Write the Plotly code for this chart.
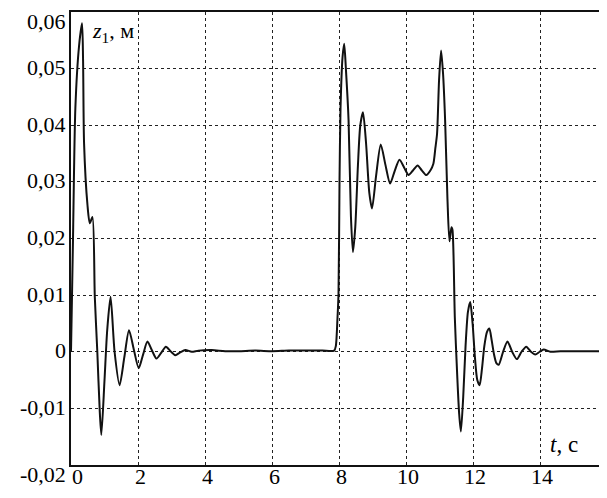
import plotly.graph_objects as go

t_values = [0, 0.03, 0.06, 0.13, 0.24, 0.33, 0.36, 0.39, 0.49, 0.56, 0.64, 0.71, 0.785, 0.86, 0.905,
            1.0, 1.08, 1.18, 1.30, 1.45, 1.59, 1.73, 1.87, 2.02, 2.15, 2.28, 2.41, 2.55, 2.69, 2.83,
            2.97, 3.11, 3.26, 3.41, 3.6, 3.8, 4.2, 4.6, 5.0, 5.5, 6.0, 6.5, 7.0, 7.5, 7.85,
            7.9, 7.95, 7.98, 8.01, 8.04, 8.1, 8.15, 8.2, 8.28, 8.35, 8.41, 8.48, 8.56, 8.63, 8.71,
            8.8, 8.9, 8.98, 9.1, 9.24, 9.38, 9.52, 9.66, 9.80, 9.94, 10.07, 10.2, 10.34, 10.47, 10.6,
            10.72, 10.81, 10.87, 10.92, 10.98, 11.04, 11.1, 11.16, 11.23, 11.29, 11.35, 11.38, 11.45,
            11.52, 11.58, 11.63, 11.7, 11.77, 11.84, 11.91, 11.98, 12.05, 12.12, 12.19, 12.26, 12.33,
            12.41, 12.48, 12.55, 12.62, 12.69, 12.76, 12.89, 13.02, 13.16, 13.30, 13.44, 13.58, 13.72,
            13.85, 13.98, 14.1, 14.3, 14.6, 15.0, 15.5, 15.9]
z_values = [0, 0.01, 0.02, 0.043, 0.054, 0.058, 0.0515, 0.0368, 0.026, 0.0227, 0.0238, 0.0097, 0.0, -0.0108, -0.0147,
            -0.005, 0.0038, 0.0097, 0.0, -0.0059, -0.001, 0.0038, 0.0005, -0.0029, -0.0005, 0.0018, 0.0003, -0.0012, -0.0002, 0.0009,
            0.0001, -0.0006, -0.0001, 0.0003, 0.0, 0.0002, 0.0003, 0.0001, 0.0001, 0.0002, 0.0001, 0.0002, 0.0002, 0.0002, 0.0002,
            0.001, 0.006, 0.0103, 0.03, 0.043, 0.052, 0.0544, 0.05, 0.0409, 0.024, 0.0176, 0.022, 0.033, 0.040, 0.0423,
            0.037, 0.028, 0.0253, 0.031, 0.0366, 0.033, 0.0297, 0.032, 0.0339, 0.0325, 0.0312, 0.032, 0.0329, 0.032, 0.0312,
            0.032, 0.0332, 0.036, 0.0385, 0.048, 0.0532, 0.049, 0.0409, 0.027, 0.0195, 0.022, 0.0215, 0.006,
            -0.004, -0.011, -0.0141, -0.008, 0.001, 0.007, 0.0088, 0.005, -0.001, -0.005, -0.0059, -0.003, 0.001,
            0.0035, 0.0041, 0.002, -0.0005, -0.002, -0.0023, 0.0, 0.0018, 0.0, -0.0013, 0.0, 0.0009, 0.0,
            -0.0005, 0.0, 0.0004, 0.0, 0.0001, 0.0001, 0.0001, 0.0001]

x_tick_vals = [0, 2, 4, 6, 8, 10, 12, 14]
x_tick_text = ["0", "2", "4", "6", "8", "10", "12", "14"]
y_tick_vals = [-0.02, -0.01, 0, 0.01, 0.02, 0.03, 0.04, 0.05, 0.06]
y_tick_text = ["-0,02", "-0,01", "0", "0,01", "0,02", "0,03", "0,04", "0,05", "0,06"]

FAMILY = "Liberation Serif"
font = dict(family=FAMILY, size=22, color="#000000")

fig = go.Figure()
fig.add_trace(go.Scatter(x=t_values, y=z_values, mode="lines",
                         line=dict(color="#111111", width=2, shape="spline", smoothing=0.7),
                         showlegend=False, hoverinfo="skip"))

annotations = [
    dict(x=0.57, y=0.0565, xref="x", yref="y", text="<i>z</i><sub>1</sub>, м",
         showarrow=False, xanchor="left", yanchor="middle",
         font=dict(family=FAMILY, size=22, color="#000000")),
    dict(x=14.24, y=-0.0163, xref="x", yref="y", text="<i>t</i>, с",
         showarrow=False, xanchor="left", yanchor="middle",
         font=dict(family=FAMILY, size=23, color="#000000")),
]
for v, s in zip(x_tick_vals, x_tick_text):
    annotations.append(dict(x=v, y=0, xref="x", yref="paper", text=s, showarrow=False,
                            xanchor="center", yanchor="middle", yshift=-11,
                            xshift=6 if v == 0 else 2, font=font))
for v, s in zip(y_tick_vals, y_tick_text):
    if v == 0.06 or v == -0.02:
        ys = -9
    else:
        ys = 1
    annotations.append(dict(x=0, y=v, xref="paper", yref="y", text=s, showarrow=False,
                            xanchor="right", yanchor="middle", xshift=-3, yshift=ys, font=font))

# the page body adds an 8 px offset, so the figure is sized to fit the 607x498 window
fig.update_layout(
    width=599, height=490,
    margin=dict(l=63, r=3, t=4, b=33),
    paper_bgcolor="white", plot_bgcolor="white",
    font=font,
    xaxis=dict(range=[0, 15.9], tickvals=x_tick_vals, showticklabels=False,
               showgrid=True, gridcolor="#222222", griddash="dot", gridwidth=1.3,
               showline=True, linecolor="#111111", linewidth=1.5, mirror=True,
               zeroline=False, ticks="", automargin=False),
    yaxis=dict(range=[-0.02, 0.06], tickvals=y_tick_vals, showticklabels=False,
               showgrid=True, gridcolor="#222222", griddash="dot", gridwidth=1.3,
               showline=True, linecolor="#111111", linewidth=1.5, mirror=True,
               zeroline=False, ticks="", automargin=False),
    annotations=annotations,
)

fig.write_html("out.html")
